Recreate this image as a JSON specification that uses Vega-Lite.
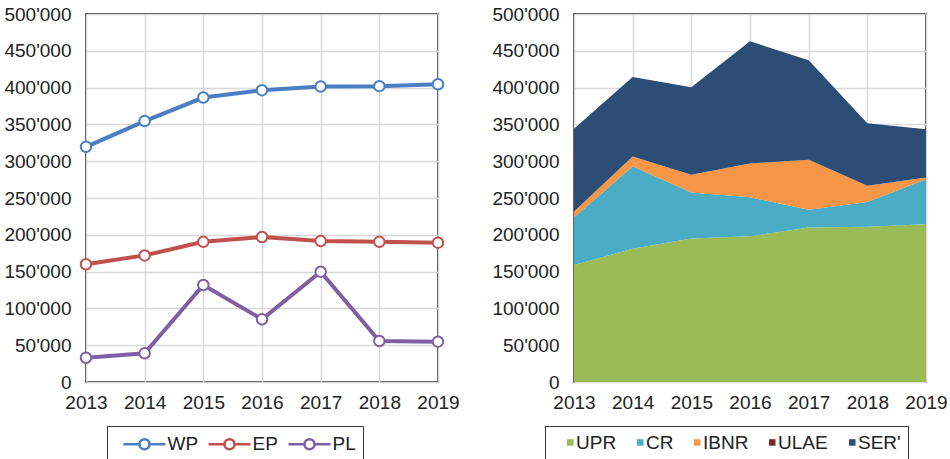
{
  "$schema": "https://vega.github.io/schema/vega-lite/v6.json",
  "padding": {"left": 3, "top": 4, "right": 0, "bottom": 0},
  "background": "white",
  "datasets": {
    "lines": [
      {"year": 2013, "series": "WP", "value": 319500},
      {"year": 2014, "series": "WP", "value": 354500},
      {"year": 2015, "series": "WP", "value": 386500},
      {"year": 2016, "series": "WP", "value": 396500},
      {"year": 2017, "series": "WP", "value": 401500},
      {"year": 2018, "series": "WP", "value": 402000},
      {"year": 2019, "series": "WP", "value": 404500},
      {"year": 2013, "series": "EP", "value": 160000},
      {"year": 2014, "series": "EP", "value": 172000},
      {"year": 2015, "series": "EP", "value": 190500},
      {"year": 2016, "series": "EP", "value": 197000},
      {"year": 2017, "series": "EP", "value": 191500},
      {"year": 2018, "series": "EP", "value": 190500},
      {"year": 2019, "series": "EP", "value": 189300},
      {"year": 2013, "series": "PL", "value": 33000},
      {"year": 2014, "series": "PL", "value": 39000},
      {"year": 2015, "series": "PL", "value": 131800},
      {"year": 2016, "series": "PL", "value": 85200},
      {"year": 2017, "series": "PL", "value": 149900},
      {"year": 2018, "series": "PL", "value": 55700},
      {"year": 2019, "series": "PL", "value": 54800}
    ],
    "areas": [
      {"year": 2013, "component": "UPR", "rank": 1, "value": 159000},
      {"year": 2014, "component": "UPR", "rank": 1, "value": 181000},
      {"year": 2015, "component": "UPR", "rank": 1, "value": 195000},
      {"year": 2016, "component": "UPR", "rank": 1, "value": 198000},
      {"year": 2017, "component": "UPR", "rank": 1, "value": 210000},
      {"year": 2018, "component": "UPR", "rank": 1, "value": 211000},
      {"year": 2019, "component": "UPR", "rank": 1, "value": 214500},
      {"year": 2013, "component": "CR", "rank": 2, "value": 64500},
      {"year": 2014, "component": "CR", "rank": 2, "value": 112000},
      {"year": 2015, "component": "CR", "rank": 2, "value": 62500},
      {"year": 2016, "component": "CR", "rank": 2, "value": 53000},
      {"year": 2017, "component": "CR", "rank": 2, "value": 24000},
      {"year": 2018, "component": "CR", "rank": 2, "value": 33500},
      {"year": 2019, "component": "CR", "rank": 2, "value": 61000},
      {"year": 2013, "component": "IBNR", "rank": 3, "value": 8000},
      {"year": 2014, "component": "IBNR", "rank": 3, "value": 13500},
      {"year": 2015, "component": "IBNR", "rank": 3, "value": 24000},
      {"year": 2016, "component": "IBNR", "rank": 3, "value": 46000},
      {"year": 2017, "component": "IBNR", "rank": 3, "value": 68000},
      {"year": 2018, "component": "IBNR", "rank": 3, "value": 22000},
      {"year": 2019, "component": "IBNR", "rank": 3, "value": 2300},
      {"year": 2013, "component": "ULAE", "rank": 4, "value": 0},
      {"year": 2014, "component": "ULAE", "rank": 4, "value": 0},
      {"year": 2015, "component": "ULAE", "rank": 4, "value": 0},
      {"year": 2016, "component": "ULAE", "rank": 4, "value": 0},
      {"year": 2017, "component": "ULAE", "rank": 4, "value": 0},
      {"year": 2018, "component": "ULAE", "rank": 4, "value": 0},
      {"year": 2019, "component": "ULAE", "rank": 4, "value": 0},
      {"year": 2013, "component": "SER'", "rank": 5, "value": 112500},
      {"year": 2014, "component": "SER'", "rank": 5, "value": 108000},
      {"year": 2015, "component": "SER'", "rank": 5, "value": 119000},
      {"year": 2016, "component": "SER'", "rank": 5, "value": 166000},
      {"year": 2017, "component": "SER'", "rank": 5, "value": 135000},
      {"year": 2018, "component": "SER'", "rank": 5, "value": 85000},
      {"year": 2019, "component": "SER'", "rank": 5, "value": 65500}
    ]
  },
  "spacing": 31,
  "resolve": {"legend": {"stroke": "independent", "color": "independent"}, "scale": {"x": "independent", "y": "independent"}},
  "hconcat": [
    {
      "width": 352,
      "height": 368,
      "data": {"name": "lines"},
      "encoding": {
        "x": {"field": "year", "type": "quantitative", "scale": {"domain": [2013, 2019], "nice": false, "zero": false},
              "axis": {"values": [2013, 2014, 2015, 2016, 2017, 2018, 2019], "format": "d", "title": null}},
        "y": {"field": "value", "type": "quantitative", "scale": {"domain": [0, 500000], "nice": false},
              "axis": {"values": [0, 50000, 100000, 150000, 200000, 250000, 300000, 350000, 400000, 450000, 500000], "title": null,
                       "labelExpr": "replace(format(datum.value, ','), regexp(',', 'g'), \"'\")"}},
        "stroke": {"field": "series", "type": "nominal",
                   "scale": {"domain": ["WP", "EP", "PL"], "range": ["#4A7EC2", "#C0504D", "#7F5FA3"]},
                   "legend": {"title": null, "orient": "none", "direction": "horizontal", "columns": 3, "legendX": 21, "legendY": 412,
                              "symbolType": "M-0.15,0H1.45M2.45,0H4.05M1.45,0A0.5,0.5 0 1,0 2.45,0A0.5,0.5 0 1,0 1.45,0Z",
                              "symbolSize": 400, "symbolStrokeWidth": 2.5, "symbolFillColor": "white",
                              "labelOffset": 31, "columnPadding": -1, "padding": 6.5, "strokeColor": "#333"}}
      },
      "layer": [
        {"mark": {"type": "line", "strokeWidth": 4}},
        {"mark": {"type": "point", "filled": true, "fill": "white", "size": 110, "strokeWidth": 2, "opacity": 1}}
      ]
    },
    {
      "width": 352,
      "height": 368,
      "data": {"name": "areas"},
      "mark": {"type": "area", "opacity": 1},
      "encoding": {
        "x": {"field": "year", "type": "quantitative", "scale": {"domain": [2013, 2019], "nice": false, "zero": false},
              "axis": {"values": [2013, 2014, 2015, 2016, 2017, 2018, 2019], "format": "d", "title": null}},
        "y": {"field": "value", "type": "quantitative", "stack": "zero", "scale": {"domain": [0, 500000], "nice": false},
              "axis": {"values": [0, 50000, 100000, 150000, 200000, 250000, 300000, 350000, 400000, 450000, 500000], "title": null,
                       "labelExpr": "replace(format(datum.value, ','), regexp(',', 'g'), \"'\")"}},
        "color": {"field": "component", "type": "nominal",
                  "scale": {"domain": ["UPR", "CR", "IBNR", "ULAE", "SER'"], "range": ["#9BBB59", "#4BACC6", "#F79646", "#7B2A2A", "#2C4D75"]},
                  "legend": {"title": null, "orient": "none", "direction": "horizontal", "columns": 5, "legendX": -29, "legendY": 412,
                             "symbolType": "M0.55,-0.33H1.2V0.32H0.55Z", "symbolSize": 400, "symbolStrokeWidth": 0,
                             "labelOffset": 4.5, "columnPadding": 5, "padding": 6.5, "strokeColor": "#333"}},
        "order": {"field": "rank", "type": "quantitative", "sort": "ascending"}
      }
    }
  ],
  "config": {
    "font": "Liberation Sans",
    "view": {"stroke": "#000", "strokeWidth": 1.5},
    "axis": {"domain": false, "ticks": false, "grid": true, "gridColor": "#D9D9D9", "gridWidth": 1.5,
             "labelFont": "Liberation Sans", "labelFontSize": 19, "labelColor": "#222", "labelOverlap": false, "labelFlush": false},
    "axisX": {"labelPadding": 11},
    "axisY": {"labelPadding": 15},
    "legend": {"labelFont": "Liberation Sans", "labelFontSize": 19, "labelColor": "#222"}
  }
}
